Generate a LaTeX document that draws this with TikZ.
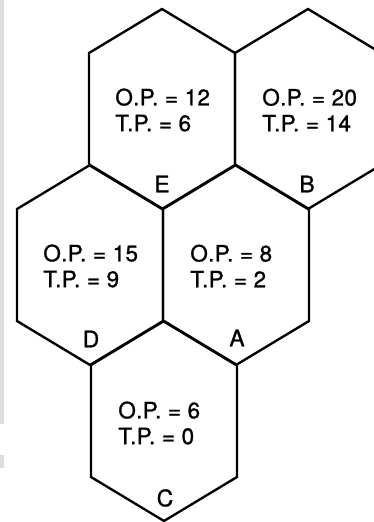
\documentclass[tikz,border=0pt]{standalone}
\usepackage{fontspec}
\setmainfont{TeX Gyre Heros}
\newfontfamily\scanfont[FakeBold=1.1,LetterSpace=1.5]{TeX Gyre Heros}
\usetikzlibrary{calc}
\definecolor{scangray}{RGB}{222,222,220}

\begin{document}
\begin{tikzpicture}[x=0.02cm,y=-0.02cm,
    hexline/.style={line width=1.35pt,line join=miter},
    vals/.style={align=left,anchor=west,inner sep=0pt,
      font=\scanfont\fontsize{12.8}{14.7}\selectfont},
    corner/.style={inner sep=0pt,font=\scanfont\fontsize{13}{14}\selectfont}]
    \useasboundingbox (0,0) rectangle (374,522);
    % scan edge
    \fill[scangray] (0,0) rectangle (4,424);
    \fill[scangray] (0,455) rectangle (4,468);
    \clip (0,0) rectangle (374,522);
    % hexagon centres
    \coordinate (H12) at (162,109);
    \coordinate (H20) at (308,109);
    \coordinate (H15) at (90,265);
    \coordinate (H8) at (236,265);
    \coordinate (H6) at (164,421);
    \foreach \h in {H12,H20,H15,H8,H6}
      \draw[hexline] ($(\h)+(0,-100)$) -- ($(\h)+(73,-56)$)
        -- ($(\h)+(73,56)$) -- ($(\h)+(0,100)$)
        -- ($(\h)+(-73,56)$) -- ($(\h)+(-73,-56)$) -- cycle;
    % values
    \node[vals] (v12) at (115,110) {O.P. = 12\\T.P. = 6};
    \node[vals] (v20) at (262,110) {O.P. = 20\\T.P. = 14};
    \node[vals] (v15) at (43,266) {O.P. = 15\\T.P. = 9};
    \node[vals] (v8) at (190,266) {O.P. = 8\\T.P. = 2};
    \node[vals] (v6) at (118,423) {O.P. = 6\\T.P. = 0};
    % corner letters
    \node[corner] (E) at (162,184) {E};
    \node[corner] (B) at (307,184) {B};
    \node[corner] (D) at (91,339) {D};
    \node[corner] (A) at (237,338) {A};
    \node[corner] (C) at (165,498) {C};
\end{tikzpicture}
\end{document}
